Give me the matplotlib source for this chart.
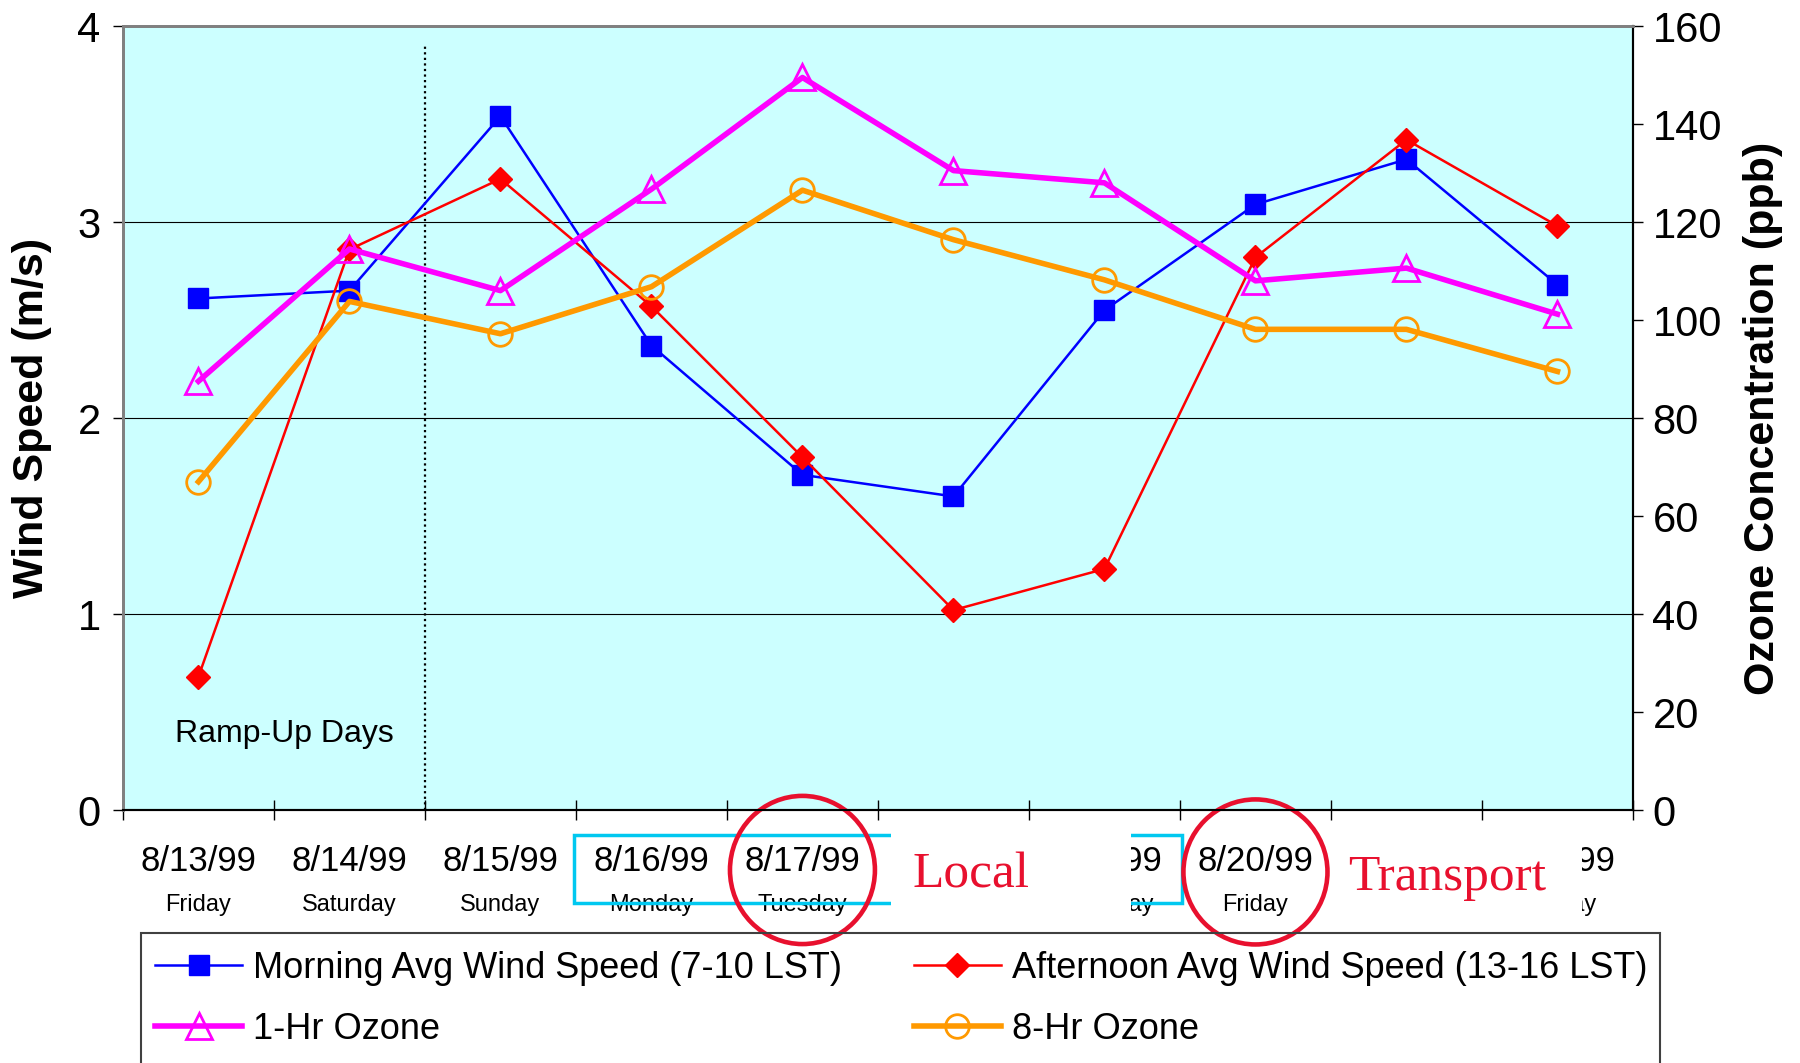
import matplotlib
matplotlib.use('Agg')
import matplotlib.pyplot as plt
import matplotlib.transforms as mtransforms
from matplotlib.patches import Rectangle, Ellipse
from matplotlib.lines import Line2D

plt.rcParams['font.family'] = ['Liberation Sans', 'DejaVu Sans']

dates = ['8/13/99', '8/14/99', '8/15/99', '8/16/99', '8/17/99',
         '8/18/99', '8/19/99', '8/20/99', '8/21/99', '8/22/99']
weekdays = ['Friday', 'Saturday', 'Sunday', 'Monday', 'Tuesday',
            'Wednesday', 'Thursday', 'Friday', 'Saturday', 'Sunday']

morning_ws = [2.61, 2.65, 3.54, 2.37, 1.71, 1.60, 2.55, 3.09, 3.32, 2.68]
afternoon_ws = [0.68, 2.86, 3.22, 2.57, 1.80, 1.02, 1.23, 2.82, 3.42, 2.98]
ozone_1hr = [87.5, 114.5, 106.0, 126.7, 149.5, 130.5, 128.0, 108.0, 110.6, 101.2]
ozone_8hr = [67.0, 103.8, 97.2, 106.8, 126.5, 116.4, 108.2, 98.1, 98.1, 89.5]

x = list(range(len(dates)))
red_note = '#e8102e'

fig = plt.figure(figsize=(18, 10.63), dpi=100)
ax1 = fig.add_axes([0.0683, 0.2380, 0.8389, 0.7375])
ax1.set_facecolor('#ccffff')
ax2 = ax1.twinx()

ax1.set_xlim(-0.5, 9.5)
ax1.set_ylim(0, 4)
ax2.set_ylim(0, 160)
ax1.set_yticks([0, 1, 2, 3, 4])
ax2.set_yticks(range(0, 161, 20))
ax1.yaxis.grid(True, color='black', linewidth=0.8)
ax1.set_axisbelow(True)

# category boundaries as ticks, labels drawn by hand below
ax1.set_xticks([i - 0.5 for i in range(len(dates) + 1)])
ax1.tick_params(axis='x', direction='inout', length=14, width=1, labelbottom=False)
ax1.tick_params(axis='y', direction='out', length=7, width=1, labelsize=30, pad=9)
ax2.tick_params(axis='y', direction='out', length=7, width=1, labelsize=30, pad=7)

for a in (ax1, ax2):
    a.spines['left'].set_color('#808080')
    a.spines['top'].set_color('#808080')
    a.spines['left'].set_linewidth(2)
    a.spines['top'].set_linewidth(2)
    a.spines['bottom'].set_color('black')
    a.spines['right'].set_color('black')
    a.spines['bottom'].set_linewidth(1.5)
    a.spines['right'].set_linewidth(1.5)

ax1.plot(x, morning_ws, color='#0000ff', linewidth=1.8, marker='s', markersize=14,
         markerfacecolor='#0000ff', markeredgecolor='#0000ff', zorder=4, clip_on=False)
ax1.plot(x, afternoon_ws, color='#ff0000', linewidth=1.8, marker='D', markersize=12,
         markerfacecolor='#ff0000', markeredgecolor='#ff0000', zorder=4, clip_on=False)
ax2.plot(x, ozone_1hr, color='#ff00ff', linewidth=4, marker='^', markersize=19,
         markerfacecolor='none', markeredgecolor='#ff00ff', markeredgewidth=2, zorder=3)
ax2.plot(x, ozone_8hr, color='#ff9900', linewidth=4, marker='o', markersize=17,
         markerfacecolor='none', markeredgecolor='#ff9900', markeredgewidth=2, zorder=3)

ax1.plot([1.5, 1.5], [0, 3.91], color='black', linestyle=(0, (1, 1.5)), linewidth=1.6)
ax1.text(0.57, 0.39, 'Ramp-Up Days', fontsize=23, ha='center', va='center')

ax1.set_ylabel('Wind Speed (m/s)', fontsize=31, fontweight='bold')
ax1.yaxis.set_label_coords(-0.047, 0.5)
ax2.set_ylabel('Ozone Concentration (ppb)', fontsize=31, fontweight='bold', rotation=90)
ax2.yaxis.set_label_coords(1.073, 0.5)

# hand-made category labels under the axis
trans = mtransforms.blended_transform_factory(ax1.transData, ax1.transAxes)
for i in x:
    ax1.text(i, -0.066, dates[i], transform=trans, fontsize=25, ha='center', va='center',
             clip_on=False, zorder=3)
    ax1.text(i, -0.121, weekdays[i], transform=trans, fontsize=17, ha='center',
             va='center', clip_on=False, zorder=3)

ax1.add_patch(Rectangle((2.487, -0.119), 4.026, 0.087, transform=trans, fill=False,
                        edgecolor='#00c8f0', linewidth=2.5, clip_on=False, zorder=3.5))
ax1.add_patch(Rectangle((4.586, -0.150), 1.59, 0.135, transform=trans, facecolor='white',
                        edgecolor='none', clip_on=False, zorder=4))
ax1.add_patch(Rectangle((7.47, -0.150), 1.69, 0.135, transform=trans, facecolor='white',
                        edgecolor='none', clip_on=False, zorder=4))
ax1.text(5.116, -0.083, 'Local', transform=trans, fontsize=37, family='Liberation Serif',
         color=red_note, ha='center', va='center', clip_on=False, zorder=5)
ax1.text(8.27, -0.087, 'Transport', transform=trans, fontsize=37, family='Liberation Serif',
         color=red_note, ha='center', va='center', clip_on=False, zorder=5)
ax1.add_patch(Ellipse((4.0, -0.0765), 0.96, 0.189, transform=trans, fill=False,
                      edgecolor=red_note, linewidth=3.3, clip_on=False, zorder=6))
ax1.add_patch(Ellipse((7.0, -0.079), 0.954, 0.185, transform=trans, fill=False,
                      edgecolor=red_note, linewidth=3.3, clip_on=False, zorder=6))

handles = [
    Line2D([], [], color='#0000ff', linewidth=1.8, marker='s', markersize=14),
    Line2D([], [], color='#ff00ff', linewidth=4, marker='^', markersize=19,
           markerfacecolor='none', markeredgewidth=2),
    Line2D([], [], color='#ff0000', linewidth=1.8, marker='D', markersize=12),
    Line2D([], [], color='#ff9900', linewidth=4, marker='o', markersize=17,
           markerfacecolor='none', markeredgewidth=2),
]
labels = ['Morning Avg Wind Speed (7-10 LST)', '1-Hr Ozone',
          'Afternoon Avg Wind Speed (13-16 LST)', '8-Hr Ozone']
leg = fig.legend(handles, labels, ncol=2, loc='upper left',
                 bbox_to_anchor=(0.0783, 0.119), fontsize=26, frameon=False,
                 handlelength=2.4, handletextpad=0.3, columnspacing=2.0,
                 labelspacing=0.72, borderpad=0.4, borderaxespad=0)
leg.set_zorder(2)
# legend box runs off the bottom edge of the picture
fig.patches.append(Rectangle((0.0784, -0.05), 0.8438, 0.1723, transform=fig.transFigure,
                             fill=False, edgecolor='#404040', linewidth=1.5, zorder=1))

fig.savefig('out.png', dpi=100)
